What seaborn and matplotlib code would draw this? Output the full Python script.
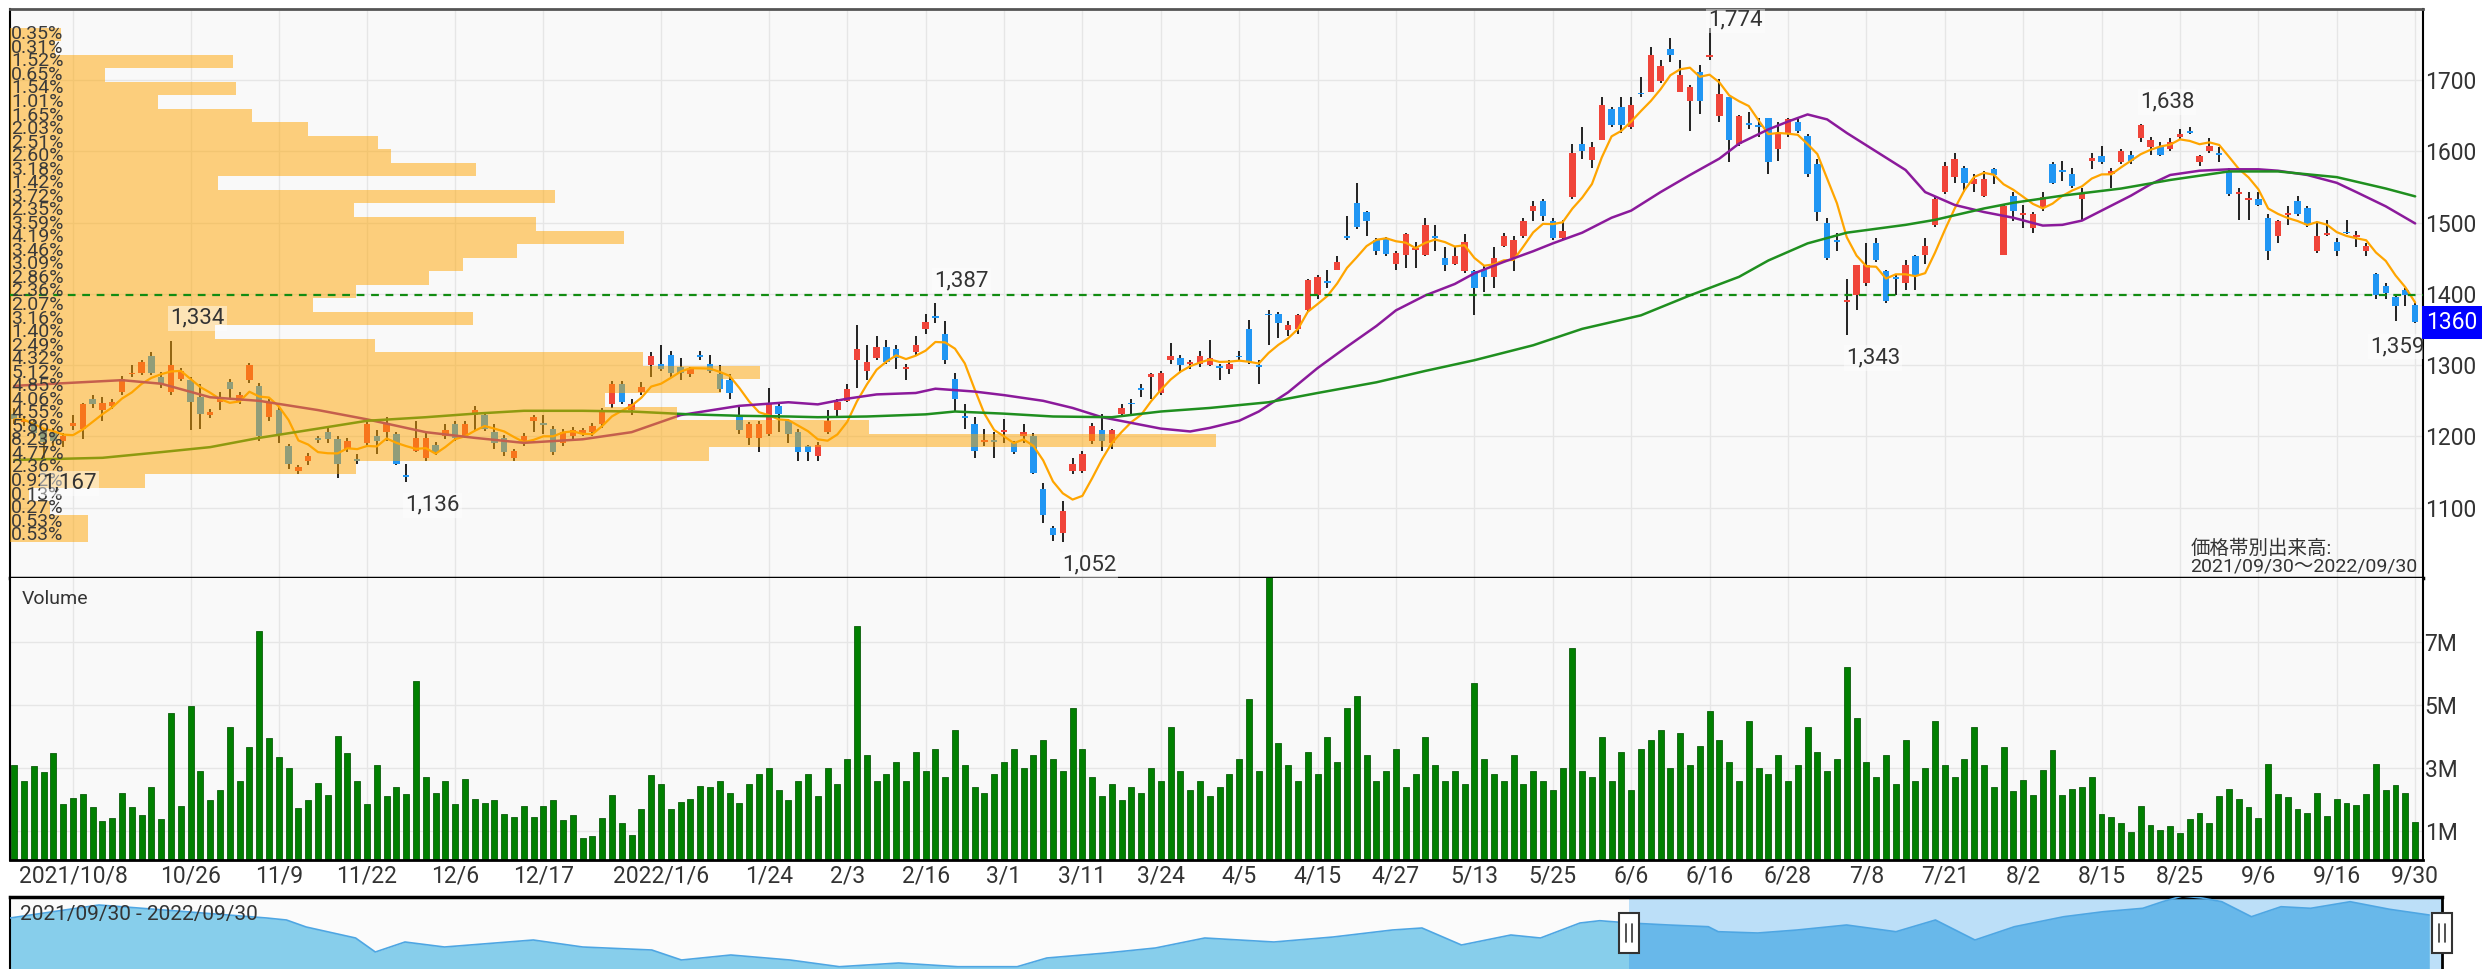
import numpy as np
import pandas as pd
import matplotlib
matplotlib.use("Agg")
import matplotlib.pyplot as plt
import matplotlib.transforms as mtransforms
from matplotlib.patches import Rectangle
import seaborn as sns

# --- Data ---
# Tokyo market holidays inside the period
holidays = ["2021-11-03", "2021-11-23", "2021-12-31", "2022-01-03", "2022-01-10",
            "2022-02-11", "2022-02-23", "2022-03-21", "2022-04-29", "2022-05-03",
            "2022-05-04", "2022-05-05", "2022-07-18", "2022-08-11", "2022-09-19",
            "2022-09-23"]

opens = [1232,
    1220, 1220, 1208, 1206, 1193, 1215, 1211, 1253, 1237, 1243,
    1263, 1287, 1289, 1313, 1284, 1263, 1281, 1279, 1255, 1230,
    1248, 1276, 1250, 1279, 1271, 1227, 1237, 1186, 1152, 1165,
    1197, 1206, 1196, 1183, 1168, 1191, 1201, 1206, 1204, 1145,
    1180, 1170, 1188, 1201, 1217, 1201, 1230, 1230, 1206, 1198,
    1170, 1191, 1222, 1217, 1211, 1191, 1201, 1204, 1206, 1217,
    1245, 1274, 1237, 1263, 1300, 1302, 1315, 1297, 1287, 1314,
    1302, 1287, 1279, 1227, 1198, 1198, 1204, 1243, 1222, 1206,
    1186, 1172, 1206, 1237, 1250, 1307, 1292, 1310, 1326, 1323,
    1294, 1318, 1351, 1368, 1344, 1281, 1228, 1217, 1192, 1194,
    1206, 1191, 1201, 1201, 1126, 1071, 1064, 1152, 1152, 1193,
    1209, 1191, 1232, 1246, 1267, 1284, 1261, 1307, 1310, 1302,
    1302, 1300, 1297, 1294, 1313, 1351, 1300, 1372, 1372, 1349,
    1351, 1377, 1398, 1417, 1434, 1481, 1528, 1515, 1476, 1477,
    1442, 1455, 1462, 1455, 1481, 1450, 1442, 1432, 1432, 1434,
    1424, 1468, 1450, 1481, 1517, 1530, 1502, 1479, 1536, 1611,
    1588, 1616, 1660, 1663, 1634, 1681, 1683, 1699, 1744, 1683,
    1671, 1712, 1733, 1650, 1676, 1611, 1638, 1635, 1647, 1603,
    1626, 1642, 1622, 1582, 1499, 1474, 1389, 1398, 1416, 1471,
    1432, 1423, 1416, 1453, 1455, 1497, 1543, 1564, 1577, 1554,
    1538, 1575, 1455, 1538, 1511, 1492, 1520, 1582, 1572, 1569,
    1533, 1587, 1593, 1568, 1585, 1595, 1619, 1606, 1606, 1603,
    1621, 1629, 1585, 1600, 1596, 1572, 1540, 1532, 1534, 1507,
    1481, 1511, 1530, 1520, 1460, 1483, 1473, 1486, 1480, 1460,
    1428, 1411, 1396, 1406, 1385]

highs = [1240,
    1228, 1225, 1212, 1212, 1205, 1230, 1247, 1258, 1255, 1252,
    1285, 1300, 1308, 1318, 1290, 1334, 1296, 1284, 1274, 1238,
    1263, 1281, 1262, 1303, 1275, 1252, 1242, 1190, 1160, 1177,
    1201, 1214, 1200, 1198, 1175, 1220, 1209, 1227, 1206, 1161,
    1222, 1205, 1192, 1217, 1222, 1222, 1243, 1234, 1217, 1202,
    1183, 1205, 1230, 1230, 1215, 1210, 1213, 1212, 1219, 1240,
    1278, 1278, 1253, 1276, 1318, 1328, 1320, 1310, 1298, 1320,
    1315, 1300, 1287, 1243, 1220, 1221, 1268, 1245, 1225, 1211,
    1188, 1192, 1237, 1253, 1274, 1357, 1328, 1341, 1336, 1328,
    1302, 1341, 1372, 1387, 1362, 1289, 1245, 1227, 1211, 1206,
    1224, 1193, 1217, 1205, 1134, 1074, 1110, 1170, 1180, 1219,
    1232, 1211, 1245, 1253, 1274, 1289, 1292, 1331, 1315, 1307,
    1320, 1336, 1302, 1307, 1320, 1364, 1307, 1377, 1375, 1362,
    1372, 1421, 1427, 1434, 1453, 1510, 1556, 1517, 1479, 1480,
    1460, 1486, 1473, 1507, 1497, 1466, 1466, 1484, 1434, 1440,
    1466, 1486, 1481, 1507, 1530, 1533, 1507, 1504, 1611, 1634,
    1613, 1676, 1663, 1676, 1676, 1704, 1746, 1728, 1759, 1728,
    1694, 1722, 1774, 1702, 1677, 1651, 1655, 1647, 1647, 1642,
    1647, 1645, 1624, 1590, 1507, 1486, 1421, 1440, 1471, 1479,
    1434, 1427, 1447, 1455, 1479, 1538, 1585, 1598, 1580, 1569,
    1572, 1577, 1525, 1543, 1525, 1515, 1543, 1585, 1587, 1577,
    1549, 1598, 1608, 1577, 1603, 1600, 1638, 1621, 1613, 1619,
    1632, 1634, 1595, 1619, 1606, 1577, 1549, 1543, 1543, 1512,
    1504, 1523, 1538, 1523, 1502, 1504, 1479, 1504, 1489, 1471,
    1430, 1416, 1398, 1409, 1388]

lows = [1218,
    1215, 1198, 1167, 1185, 1185, 1209, 1196, 1240, 1222, 1238,
    1258, 1284, 1286, 1286, 1268, 1258, 1278, 1209, 1211, 1226,
    1237, 1253, 1246, 1275, 1193, 1222, 1191, 1154, 1147, 1160,
    1191, 1191, 1142, 1178, 1162, 1186, 1175, 1193, 1160, 1136,
    1178, 1165, 1174, 1196, 1193, 1198, 1209, 1207, 1183, 1172,
    1166, 1186, 1206, 1204, 1174, 1187, 1197, 1200, 1201, 1212,
    1240, 1245, 1230, 1258, 1284, 1292, 1284, 1279, 1283, 1307,
    1289, 1263, 1253, 1204, 1188, 1178, 1201, 1206, 1191, 1165,
    1165, 1165, 1204, 1227, 1248, 1268, 1279, 1307, 1302, 1294,
    1279, 1315, 1344, 1359, 1302, 1235, 1211, 1170, 1186, 1170,
    1191, 1175, 1191, 1147, 1079, 1053, 1052, 1147, 1149, 1190,
    1180, 1183, 1230, 1230, 1255, 1253, 1258, 1302, 1289, 1294,
    1297, 1299, 1279, 1287, 1307, 1302, 1274, 1328, 1338, 1341,
    1344, 1375, 1393, 1408, 1434, 1476, 1491, 1481, 1455, 1453,
    1434, 1437, 1437, 1453, 1460, 1432, 1440, 1429, 1370, 1403,
    1408, 1466, 1432, 1479, 1502, 1502, 1476, 1476, 1533, 1590,
    1577, 1616, 1634, 1626, 1632, 1676, 1683, 1696, 1725, 1683,
    1629, 1652, 1728, 1642, 1585, 1608, 1632, 1621, 1569, 1587,
    1621, 1626, 1564, 1502, 1447, 1460, 1343, 1377, 1411, 1445,
    1388, 1398, 1406, 1406, 1442, 1494, 1541, 1556, 1543, 1543,
    1536, 1554, 1455, 1502, 1492, 1486, 1517, 1554, 1559, 1549,
    1504, 1575, 1582, 1549, 1582, 1582, 1613, 1595, 1593, 1600,
    1616, 1624, 1580, 1598, 1585, 1538, 1504, 1504, 1523, 1447,
    1471, 1497, 1510, 1494, 1458, 1481, 1453, 1484, 1466, 1453,
    1393, 1393, 1362, 1383, 1359]

closes = [1224,
    1223, 1205, 1192, 1193, 1200, 1219, 1245, 1245, 1247, 1248,
    1281, 1288, 1305, 1289, 1274, 1300, 1292, 1248, 1232, 1235,
    1255, 1266, 1258, 1300, 1201, 1248, 1204, 1162, 1157, 1172,
    1195, 1196, 1161, 1193, 1166, 1217, 1193, 1217, 1162, 1143,
    1198, 1198, 1178, 1209, 1198, 1218, 1237, 1211, 1191, 1178,
    1179, 1201, 1227, 1216, 1178, 1206, 1209, 1209, 1214, 1235,
    1274, 1248, 1245, 1270, 1313, 1294, 1289, 1289, 1294, 1312,
    1292, 1266, 1261, 1209, 1217, 1217, 1245, 1232, 1204, 1178,
    1178, 1188, 1222, 1248, 1266, 1323, 1305, 1326, 1305, 1310,
    1297, 1329, 1361, 1366, 1307, 1253, 1226, 1180, 1194, 1192,
    1209, 1178, 1206, 1149, 1090, 1061, 1095, 1162, 1175, 1214,
    1193, 1209, 1240, 1245, 1265, 1287, 1289, 1313, 1300, 1304,
    1313, 1310, 1296, 1302, 1311, 1305, 1298, 1370, 1359, 1357,
    1370, 1419, 1424, 1416, 1445, 1479, 1494, 1502, 1460, 1456,
    1458, 1484, 1464, 1497, 1479, 1440, 1453, 1473, 1408, 1424,
    1450, 1481, 1476, 1502, 1523, 1510, 1479, 1489, 1598, 1600,
    1606, 1665, 1637, 1637, 1665, 1680, 1735, 1720, 1735, 1707,
    1691, 1671, 1735, 1681, 1616, 1650, 1637, 1634, 1585, 1624,
    1645, 1629, 1569, 1515, 1450, 1473, 1391, 1440, 1440, 1447,
    1390, 1421, 1440, 1427, 1468, 1533, 1580, 1590, 1556, 1562,
    1562, 1567, 1523, 1517, 1513, 1512, 1536, 1556, 1571, 1551,
    1541, 1591, 1585, 1572, 1600, 1587, 1637, 1616, 1595, 1613,
    1624, 1626, 1593, 1608, 1595, 1541, 1541, 1533, 1525, 1460,
    1503, 1512, 1512, 1497, 1481, 1484, 1460, 1485, 1481, 1467,
    1398, 1401, 1383, 1398, 1360]

# daily volume, millions of shares
volume_m = [
    3.10, 2.60, 3.06, 2.87, 3.49, 1.85, 2.06, 2.16, 1.77, 1.33,
    1.40, 2.22, 1.75, 1.51, 2.41, 1.38, 4.74, 1.81, 4.98, 2.90,
    1.97, 2.31, 4.29, 2.60, 3.68, 7.35, 3.94, 3.36, 3.01, 1.73,
    2.00, 2.54, 2.14, 4.02, 3.49, 2.60, 1.86, 3.11, 2.12, 2.41,
    2.16, 5.75, 2.70, 2.20, 2.60, 1.87, 2.65, 2.03, 1.89, 2.00,
    1.55, 1.43, 1.79, 1.43, 1.80, 1.97, 1.36, 1.52, 0.78, 0.83,
    1.42, 2.14, 1.25, 0.87, 1.70, 2.77, 2.50, 1.69, 1.91, 2.03,
    2.43,
    2.4, 2.6, 2.2, 1.9, 2.5, 2.8, 3.0, 2.3, 2.0, 2.6,
    2.8, 2.1, 3.0, 2.5, 3.3, 7.5, 3.4, 2.6, 2.8, 3.2,
    2.6, 3.5, 2.9, 3.6, 2.7, 4.2, 3.1, 2.4, 2.2, 2.8,
    3.2, 3.6, 3.0, 3.4, 3.9, 3.3, 2.9, 4.9, 3.6, 2.7,
    2.1, 2.5, 2.0, 2.4, 2.2, 3.0, 2.6, 4.3, 2.9, 2.3,
    2.6, 2.1, 2.4, 2.8, 3.3, 5.2, 2.9, 9.1, 3.8, 3.1,
    2.6, 3.5, 2.8, 4.0, 3.2, 4.9, 5.3, 3.4, 2.6, 2.9,
    3.6, 2.4, 2.8, 4.0, 3.1, 2.6, 2.9, 2.5, 5.7, 3.3,
    2.8, 2.6, 3.4, 2.5, 2.9, 2.6, 2.3, 3.0, 6.8, 2.9,
    2.7, 4.0, 2.6, 3.5, 2.3, 3.6, 3.9, 4.2, 3.0, 4.1,
    3.1, 3.7, 4.8, 3.9, 3.2, 2.6, 4.5, 3.0, 2.8, 3.4,
    2.6, 3.1, 4.3, 3.5, 2.9, 3.3, 6.2, 4.6, 3.2, 2.7,
    3.4, 2.5, 3.9, 2.6, 3.0, 4.5, 3.1, 2.7, 3.3, 4.3,
    3.1,
    2.41, 3.68, 2.27, 2.62, 2.14, 2.94, 3.57, 2.14, 2.32, 2.39,
    2.70, 1.54, 1.43, 1.24, 0.98, 1.79, 1.19, 1.03, 1.17, 0.95,
    1.37, 1.56, 1.24, 2.11, 2.35, 2.02, 1.77, 1.40, 3.14, 2.16,
    2.07, 1.69, 1.56, 2.20, 1.48, 2.02, 1.90, 1.83, 2.17, 3.14,
    2.30, 2.46, 2.22, 1.30]

# 25-day and 75-day moving averages as drawn (trading-day number, price)
ma25_day = [0, 4, 11, 15, 20, 25, 31, 36, 42, 47, 52, 58, 63, 68, 74, 79, 82, 85, 88, 92,
            94, 98, 101, 105, 108, 111, 114, 117, 120, 122, 125, 127, 130, 133, 136, 139, 141, 144, 147, 149,
            152, 155, 157, 160, 163, 165, 168, 171, 174, 176, 179, 181, 183, 185, 187, 190, 193, 195, 198, 201,
            204, 207, 209, 211, 213, 216, 218, 220, 223, 226, 229, 231, 234, 237, 239, 242, 245]
ma25_val = [1271, 1274, 1279, 1274, 1255, 1250, 1237, 1224, 1206, 1198, 1191, 1196, 1206, 1230, 1243, 1248, 1245, 1253, 1259, 1261,
            1267, 1263, 1258, 1250, 1240, 1227, 1219, 1211, 1207, 1212, 1222, 1235, 1262, 1296, 1326, 1355, 1377, 1398, 1414, 1429,
            1445, 1460, 1471, 1486, 1507, 1517, 1543, 1567, 1590, 1611, 1631, 1642, 1652, 1645, 1626, 1600, 1574, 1543, 1525, 1515,
            1507, 1496, 1497, 1503, 1517, 1538, 1554, 1567, 1573, 1575, 1575, 1573, 1567, 1556, 1543, 1523, 1499]
ma75_day = [0, 9, 15, 20, 25, 31, 36, 42, 47, 52, 58, 63, 69, 74, 79, 82, 87, 93, 96, 101,
            106, 112, 117, 122, 128, 133, 139, 144, 149, 155, 160, 166, 171, 176, 179, 183, 187, 193, 196, 201,
            204, 209, 215, 220, 226, 231, 237, 242, 245]
ma75_val = [1167, 1170, 1178, 1185, 1198, 1211, 1222, 1227, 1232, 1236, 1236, 1235, 1231, 1229, 1228, 1227, 1228, 1231, 1235, 1232,
            1228, 1227, 1235, 1240, 1248, 1261, 1276, 1292, 1307, 1328, 1351, 1370, 1398, 1424, 1447, 1471, 1486, 1497, 1504, 1520,
            1528, 1538, 1548, 1560, 1572, 1572, 1564, 1548, 1537]

# volume-by-price (top bin first), range low..high of the period
profile_pct = [0.35, 0.31, 1.52, 0.65, 1.54, 1.01, 1.65, 2.03, 2.51, 2.60,
               3.18, 1.42, 3.72, 2.35, 3.59, 4.19, 3.46, 3.09, 2.86, 2.36,
               2.07, 3.16, 1.40, 2.49, 4.32, 5.12, 4.85, 4.06, 4.55, 5.86,
               8.23, 4.77, 2.36, 0.92, 0.13, 0.27, 0.53, 0.53]
profile_low, profile_high = 1052, 1774
ref_price = 1398
last_price = 1360

tick_dates = ["2021-10-08", "2021-10-26", "2021-11-09", "2021-11-22", "2021-12-06", "2021-12-17",
              "2022-01-06", "2022-01-24", "2022-02-03", "2022-02-16", "2022-03-01", "2022-03-11",
              "2022-03-24", "2022-04-05", "2022-04-15", "2022-04-27", "2022-05-13", "2022-05-25",
              "2022-06-06", "2022-06-16", "2022-06-28", "2022-07-08", "2022-07-21", "2022-08-02",
              "2022-08-15", "2022-08-25", "2022-09-06", "2022-09-16", "2022-09-30"]
tick_labels = ["2021/10/8", "10/26", "11/9", "11/22", "12/6", "12/17", "2022/1/6", "1/24", "2/3",
               "2/16", "3/1", "3/11", "3/24", "4/5", "4/15", "4/27", "5/13", "5/25", "6/6", "6/16",
               "6/28", "7/8", "7/21", "8/2", "8/15", "8/25", "9/6", "9/16", "9/30"]

mark_dates = ["2021-10-05", "2021-10-22", "2021-11-29", "2022-02-17", "2022-03-09",
              "2022-06-16", "2022-07-06", "2022-08-19", "2022-09-30"]
mark_kinds = ["low", "high", "low", "high", "low", "high", "low", "high", "low"]

# navigator overview series (trading-day number, level)
nav_day = [0, 9, 13, 26, 28, 30, 35, 37, 40, 44, 53, 58, 65, 68, 73, 79, 84, 90, 96, 102,
           105, 111, 116, 121, 128, 134, 140, 143, 147, 152, 155, 159, 161, 164, 168, 172, 173, 177, 181, 186,
           191, 195, 199, 203, 208, 212, 216, 218, 220, 222, 224, 227, 230, 233, 237, 241, 245]
nav_val = [1510, 1640, 1610, 1510, 1490, 1420, 1310, 1170, 1270, 1220, 1290, 1220, 1190, 1090, 1140, 1090, 1023, 1060, 1023, 1023,
           1110, 1160, 1210, 1310, 1270, 1320, 1390, 1410, 1240, 1340, 1310, 1460, 1483, 1460, 1440, 1423, 1373, 1360, 1390, 1440,
           1373, 1490, 1290, 1423, 1523, 1573, 1607, 1673, 1730, 1710, 1673, 1523, 1623, 1607, 1673, 1597, 1540]
nav_window_start = "2022-06-03"

# --- Frame ---
dates = pd.bdate_range("2021-09-30", "2022-09-30", freq="C", holidays=holidays)
df = pd.DataFrame({"open": opens, "high": highs, "low": lows, "close": closes,
                   "volume": np.array(volume_m) * 1e6}, index=dates)
df["ma5"] = df["close"].rolling(5, min_periods=1).mean()
x = np.arange(len(df))
tick_pos = [df.index.get_loc(pd.Timestamp(d)) for d in tick_dates]

# --- Style ---
sns.set_theme(style="white")
plt.rcParams["font.family"] = ["Roboto", "Noto Sans CJK JP", "DejaVu Sans"]
RED, BLUE = "#f0453a", "#2196f3"
TXT = "#333333"
GRID = "#e6e6e6"

W, H = 2484, 969
fig = plt.figure(figsize=(W / 100, H / 100), dpi=100)


def frame(l, t, r, b):
    return [l / W, 1 - b / H, (r - l) / W, (b - t) / H]


ax = fig.add_axes(frame(10, 9, 2422.5, 577.5))
axv = fig.add_axes(frame(10, 577.5, 2422.5, 860))
axn = fig.add_axes(frame(10, 897, 2442, 969))

xmin, xmax = -0.43, len(df) - 0.25
ymin, ymax = 1002, 1800

# --- Price panel ---
ax.set_facecolor("#f9f9f9")
ax.set_xlim(xmin, xmax)
ax.set_ylim(ymin, ymax)
ax.set_xticks(tick_pos)
ax.set_yticks(range(1100, 1800, 100))
ax.yaxis.tick_right()
ax.tick_params(axis="y", length=0, pad=1.5, labelsize=16.5, colors=TXT)
ax.tick_params(axis="x", length=0, labelbottom=False)
ax.grid(True, color=GRID, lw=1)
ax.set_axisbelow(True)

up = (df["close"] >= df["open"]).values
body_lo = np.minimum(df["open"], df["close"])
body_h = np.maximum((df["close"] - df["open"]).abs(), 2.5)
ax.vlines(x, df["low"], df["high"], color="#111111", lw=1.3, zorder=2)
ax.bar(x, body_h, bottom=body_lo, width=0.66, color=np.where(up, RED, BLUE), lw=0, zorder=2.5)

sns.lineplot(x=x, y=df["ma5"].values, ax=ax, color="#ffa500", lw=1.6, errorbar=None, zorder=3)
sns.lineplot(x=ma25_day, y=ma25_val, ax=ax, color="#8b1a9b", lw=1.8, errorbar=None, zorder=3)
sns.lineplot(x=ma75_day, y=ma75_val, ax=ax, color="#1f8f1f", lw=1.8, errorbar=None, zorder=3)

# volume-by-price profile on top of the candles
edges = np.linspace(profile_low, profile_high, len(profile_pct) + 1)
centers = (edges[:-1] + edges[1:]) / 2
pct_bt = np.array(profile_pct[::-1])
widths = pct_bt / pct_bt.max() * 0.5 * (xmax - xmin)
ax.barh(centers, widths, height=edges[1] - edges[0], left=xmin, color="#ffa500",
        alpha=0.5, lw=0, zorder=4)
for c, p in zip(centers[::-1], profile_pct):
    ax.text(xmin + 0.12, c, f"{p:.2f}%", ha="left", va="center", fontsize=14,
            color="#3a3a3a", zorder=6)

ax.axhline(ref_price, color="#128c12", lw=1.6, ls=(0, (3.5, 3)), zorder=5)

# high / low marks
for d, kind in zip(mark_dates, mark_kinds):
    i = df.index.get_loc(pd.Timestamp(d))
    if kind == "high":
        v = int(df["high"].iloc[i])
        y, va = min(v + 17, ymax - 30), "bottom"
    else:
        v = int(df["low"].iloc[i])
        y, va = v - 18, "top"
    if i > len(df) - 4:
        xt, ha = xmax + 0.25, "right"
    else:
        xt, ha = i - 0.1, "left"
    ax.text(xt, y, f"{v:,}", ha=ha, va=va, fontsize=16, color=TXT, zorder=7, clip_on=True,
            bbox=dict(boxstyle="square,pad=0.1", fc="white", ec="none", alpha=0.45))

ax.text(0.998, 0.004, "価格帯別出来高:\n2021/09/30～2022/09/30", transform=ax.transAxes,
        ha="right", va="bottom", multialignment="left", fontsize=14, color=TXT,
        linespacing=0.95, zorder=7)

trans_r = mtransforms.blended_transform_factory(ax.transAxes, ax.transData)
ax.text(1.0016, last_price, f"{last_price}", transform=trans_r, ha="left", va="center",
        fontsize=16.5, color="white", clip_on=False, zorder=10,
        bbox=dict(boxstyle="square,pad=0.2", fc="#0000ff", ec="none"))

for s in ax.spines.values():
    s.set_color("black")
    s.set_linewidth(1.5)
ax.spines["top"].set_color("#555555")
ax.spines["top"].set_linewidth(2)
ax.spines["bottom"].set_linewidth(2.5)

# --- Volume panel ---
axv.set_facecolor("#f9f9f9")
axv.bar(x, df["volume"], width=0.6, color="#008000", edgecolor="#0b5d0b", lw=0.6, zorder=2)
axv.set_xlim(xmin, xmax)
axv.set_ylim(0.08e6, 9.05e6)
axv.set_yticks([1e6, 3e6, 5e6, 7e6])
axv.set_yticklabels(["1M", "3M", "5M", "7M"])
axv.yaxis.tick_right()
axv.tick_params(axis="y", length=0, pad=1.5, labelsize=16.5, colors=TXT)
axv.set_xticks(tick_pos)
axv.set_xticklabels(tick_labels)
axv.tick_params(axis="x", length=0, pad=3.5, labelsize=16.5, colors=TXT)
axv.grid(True, color=GRID, lw=1)
axv.set_axisbelow(True)
axv.text(0.005, 0.955, "Volume", transform=axv.transAxes, ha="left", va="top",
         fontsize=14, color=TXT)
for s in axv.spines.values():
    s.set_color("black")
    s.set_linewidth(1.5)
axv.spines["top"].set_visible(False)
axv.spines["bottom"].set_linewidth(2)

# --- Navigator ---
nav_right = 246.3
sel_x = df.index.get_loc(pd.Timestamp(nav_window_start))
axn.set_facecolor("#fbfbfb")
axn.set_xlim(0, nav_right)
axn.set_ylim(1000, 1720)
axn.axvspan(sel_x, nav_right, color="#bcdff8", lw=0, zorder=0.5)
axn.fill_between(nav_day, 1000, nav_val, color="#87ceeb", lw=0, zorder=1)
sel_fill = axn.fill_between(nav_day, 1000, nav_val, color="#68b8ea", lw=0, zorder=2)
sel_fill.set_clip_path(Rectangle((sel_x, 1000), nav_right - sel_x, 800, transform=axn.transData))
sns.lineplot(x=nav_day, y=nav_val, ax=axn, color="#4ea6e3", lw=1.2, errorbar=None, zorder=3)
axn.set_xticks([])
axn.set_yticks([])
axn.set_xlabel("")
axn.set_ylabel("")
axn.text(0.004, 0.89, "2021/09/30 - 2022/09/30", transform=axn.transAxes, ha="left", va="top",
         fontsize=15, color=TXT, zorder=7)
trans_n = mtransforms.blended_transform_factory(axn.transData, axn.transAxes)
for hx in (sel_x, nav_right):
    axn.add_patch(Rectangle((hx - 1.0, 0.22), 2.0, 0.56, transform=trans_n, fc="white",
                            ec="#333333", lw=1.5, clip_on=False, zorder=8))
    for dx in (-0.3, 0.3):
        axn.plot([hx + dx, hx + dx], [0.38, 0.62], transform=trans_n, color="#333333",
                 lw=1.2, clip_on=False, zorder=9)
for s in axn.spines.values():
    s.set_color("black")
    s.set_linewidth(1.5)
axn.spines["top"].set_linewidth(2.5)
axn.spines["right"].set_linewidth(2)
axn.spines["bottom"].set_visible(False)

for a in (ax, axv):
    a.set_xlabel("")
    a.set_ylabel("")

fig.savefig("out.png", dpi=100, facecolor="white")
